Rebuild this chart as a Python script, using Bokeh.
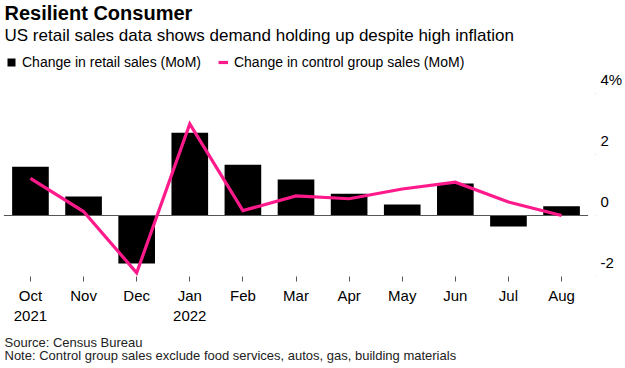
from bokeh.plotting import figure
from bokeh.models import (Range1d, LinearAxis, FixedTicker, Legend, LegendItem,
                          ColumnDataSource, Title, Label)
from bokeh.embed import file_html
from bokeh.resources import INLINE

months = ["Oct", "Nov", "Dec", "Jan", "Feb", "Mar", "Apr", "May", "Jun", "Jul", "Aug"]
years = {"Oct": "2021", "Jan": "2022"}
retail_sales = [1.6, 0.62, -1.57, 2.71, 1.66, 1.18, 0.71, 0.36, 1.05, -0.36, 0.3]
control_group = [1.22, 0.13, -1.88, 3.0, 0.16, 0.64, 0.55, 0.87, 1.09, 0.44, 0.0]
y_ticks = [-2, 0, 2, 4]
y_tick_labels = {-2: "-2", 0: "0", 2: "2", 4: "4%"}

FONT = "Liberation Sans"
PINK = "#ff1a8c"

idx = list(range(len(months)))
src = ColumnDataSource(dict(x=idx, bar=retail_sales, line=control_group))

W, H = 625, 368
BOTTOM = 92                # space under the plot for month labels and notes
FRAME_H = H - BOTTOM       # plot frame runs up to the top of the canvas
Y0, Y1 = -2, 7.049         # frame reaches up to hold title, subtitle and legend
LAB_SHIFT = 0.45           # tick labels sit above their tick marks
p = figure(width=W, height=H, output_backend="svg", toolbar_location=None,
           x_range=Range1d(-0.564, 10.639), y_range=Range1d(Y0, Y1),
           min_border_left=0, min_border_right=29, min_border_top=0, min_border_bottom=BOTTOM,
           background_fill_color="white", border_fill_color="white")
p.outline_line_color = None
p.grid.visible = False
p.yaxis.visible = False
p.extra_y_ranges = {"lab": Range1d(Y0 - LAB_SHIFT, Y1 - LAB_SHIFT)}

# x axis
p.xaxis.ticker = FixedTicker(ticks=idx)
p.xaxis.major_label_overrides = {i: (m + ("\n" + years[m] if m in years else "")) for i, m in enumerate(months)}
p.xaxis.axis_line_color = None
p.xaxis.major_tick_in = 0
p.xaxis.major_tick_out = 5
p.xaxis.major_tick_line_color = "#555555"
p.xaxis.minor_tick_line_color = None
p.xaxis.major_label_text_font = FONT
p.xaxis.major_label_text_font_size = "15px"
p.xaxis.major_label_text_color = "#000000"
p.xaxis.major_label_standoff = 5

# y tick marks (drawn at the right edge of the plot, pointing outwards)
tick_axis = LinearAxis(ticker=FixedTicker(ticks=y_ticks), fixed_location=p.x_range.end)
tick_axis.axis_line_color = None
tick_axis.major_tick_in = 13
tick_axis.major_tick_out = 0
tick_axis.major_tick_line_color = "#999999"
tick_axis.major_tick_line_width = 1.5
tick_axis.minor_tick_line_color = None
tick_axis.major_label_standoff = 0
tick_axis.major_label_text_font_size = "0px"
tick_axis.major_label_overrides = {v: "" for v in y_ticks}
p.add_layout(tick_axis, "left")

# y tick labels (placed above the tick marks)
lab_axis = LinearAxis(y_range_name="lab", ticker=FixedTicker(ticks=y_ticks))
lab_axis.axis_line_color = None
lab_axis.major_tick_in = 0
lab_axis.major_tick_out = 0
lab_axis.minor_tick_line_color = None
lab_axis.major_label_standoff = 5
lab_axis.major_label_overrides = y_tick_labels
lab_axis.major_label_text_font = FONT
lab_axis.major_label_text_font_size = "15px"
lab_axis.major_label_text_color = "#000000"
p.add_layout(lab_axis, "right")

bars = p.vbar(x="x", top="bar", bottom=0, width=0.69, source=src,
              fill_color="#000000", line_color=None)
zero = p.segment(x0=[-0.5], y0=[0], x1=[len(months) - 0.5], y1=[0],
                 line_color="#555555", line_width=1.2)
ln = p.line(x="x", y="line", source=src, line_color=PINK, line_width=3.2,
            line_join="miter")

legend = Legend(items=[LegendItem(label="Change in retail sales (MoM)", renderers=[bars]),
                       LegendItem(label="Change in control group sales (MoM)", renderers=[ln])],
                orientation="horizontal", location=(6, FRAME_H - 70), padding=0, margin=0,
                glyph_width=10, glyph_height=10, label_height=14, label_standoff=6, spacing=17,
                label_text_font=FONT, label_text_font_size="14px", label_text_color="#000000",
                background_fill_alpha=0, border_line_color=None)
p.add_layout(legend, "center")

# title and subtitle (screen units measured up from the bottom of the plot frame)
p.add_layout(Label(x=4, y=FRAME_H - 12, x_units="screen", y_units="screen",
                   text="Resilient Consumer", text_font=FONT, text_font_size="20px",
                   text_font_style="bold", text_color="#000000", text_baseline="alphabetic"))
p.add_layout(Label(x=4, y=FRAME_H - 35, x_units="screen", y_units="screen",
                   text="US retail sales data shows demand holding up despite high inflation",
                   text_font=FONT, text_font_size="17px", text_color="#000000",
                   text_baseline="alphabetic"))

p.add_layout(Title(text="Source: Census Bureau\nNote: Control group sales exclude food services, autos, gas, building materials",
                   text_font=FONT, text_font_size="13px", text_font_style="normal",
                   text_line_height=0.85, text_color="#222222", align="left", offset=4,
                   standoff=12), "below")

open("out.html", "w").write(file_html(p, INLINE))
